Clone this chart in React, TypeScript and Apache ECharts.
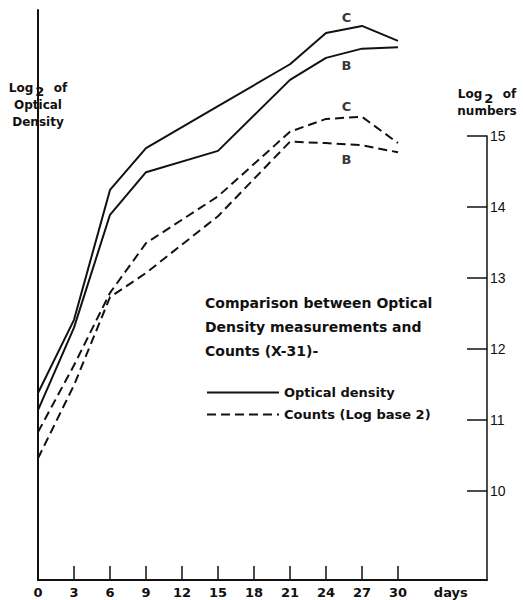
import React, { useEffect, useRef } from "react";
import * as echarts from "echarts";

// ---- data ----
const days = [0, 3, 6, 9, 15, 21, 24, 27, 30];
const opticalC = [11.38, 12.41, 14.24, 14.83, 15.42, 16.01, 16.45, 16.55, 16.34];
const opticalB = [11.14, 12.3, 13.89, 14.49, 14.79, 15.79, 16.1, 16.23, 16.25];
const countsC = [10.83, 11.77, 12.79, 13.49, 14.15, 15.06, 15.24, 15.27, 14.9];
const countsB = [10.46, 11.49, 12.73, 13.07, 13.87, 14.92, 14.9, 14.87, 14.77];
const dayTicks = [0, 3, 6, 9, 12, 15, 18, 21, 24, 27, 30];
const countTicks = [10, 11, 12, 13, 14, 15];
const daysLabelPos = 34.4;
const curveLabelDay = 25.7;

const FONT = "DejaVu Sans";
const INK = "#111";

function interp(xs: number[], ys: number[], x: number) {
  for (let i = 0; i < xs.length - 1; i++) {
    if (x >= xs[i] && x <= xs[i + 1]) {
      const t = (x - xs[i]) / (xs[i + 1] - xs[i]);
      return ys[i] + t * (ys[i + 1] - ys[i]);
    }
  }
  return ys[ys.length - 1];
}

export default function App() {
  const ref = useRef<HTMLDivElement>(null);
  useEffect(() => {
    if (!ref.current) return;
    const chart = echarts.init(ref.current, null, { renderer: "svg" });

    // layout
    const W = 523;
    const left = 38;
    const rightAxisX = 487;
    const baseY = 580;
    const topY = 10;
    const pxPerUnit = 71;
    const yMin = 8.746;
    const yMax0 = yMin + (baseY - topY) / pxPerUnit;
    const countsMax = 15;
    const grid1Top = baseY - (countsMax - yMin) * pxPerUnit;
    const xMax = (30 * (rightAxisX - left)) / 360;

    const pair = (ys: number[]) => days.map((d, i) => [d, ys[i]]);
    const labelStyle = { fontFamily: FONT, fontWeight: "bold" as const, fontSize: 13, color: INK };

    const curveLabel = (ys: number[], text: string, pos: "top" | "bottom", dist: number) => ({
      value: [curveLabelDay, interp(days, ys, curveLabelDay)],
      label: { show: true, formatter: text, position: pos, distance: dist, ...labelStyle, color: "#000" },
    });

    const nameRich = {
      t: { fontFamily: FONT, fontWeight: "bold", fontSize: 12, color: INK, lineHeight: 17 },
      s: { fontFamily: FONT, fontWeight: "bold", fontSize: 13, color: INK, lineHeight: 17, padding: [8, 1, 0, 2] },
    };

    chart.setOption({
      animation: false,
      backgroundColor: "#fff",
      title: {
        text: "Comparison between Optical\nDensity measurements and\nCounts (X-31)-",
        left: 205,
        top: 291,
        padding: 0,
        textStyle: { ...labelStyle, fontSize: 14, lineHeight: 24 },
      },
      legend: {
        data: ["Optical density", "Counts (Log base 2)"],
        orient: "vertical",
        left: 206,
        top: 386,
        padding: 0,
        itemWidth: 72,
        itemHeight: 14,
        itemGap: 9,
        itemStyle: { color: "transparent", borderColor: "transparent", borderWidth: 0 },
        textStyle: { ...labelStyle },
      },
      grid: [
        { left, right: W - rightAxisX, top: topY, bottom: 600 - baseY },
        { left, right: W - rightAxisX, top: grid1Top, bottom: 600 - baseY },
      ],
      xAxis: [
        {
          type: "value",
          gridIndex: 0,
          min: 0,
          max: xMax,
          axisLine: { show: true, onZero: false, lineStyle: { color: INK, width: 2 } },
          axisTick: { show: true, inside: true, length: 14, customValues: dayTicks, lineStyle: { color: INK, width: 1.5 } },
          axisLabel: {
            show: true,
            customValues: [...dayTicks, daysLabelPos],
            formatter: (v: number) => (v > 31 ? "days" : String(v)),
            margin: 6,
            ...labelStyle,
          },
          splitLine: { show: false },
        },
        { type: "value", gridIndex: 1, min: 0, max: xMax, show: false, axisLine: { onZero: false } },
      ],
      yAxis: [
        {
          type: "value",
          gridIndex: 0,
          position: "left",
          min: yMin,
          max: yMax0,
          name: "{t|Log}{s|2}{t|  of}\n{t|Optical}\n{t|Density}",
          nameLocation: "end",
          nameGap: -132,
          nameTextStyle: { rich: nameRich, backgroundColor: "#fff", padding: [8, 2, 12, 2], align: "center" },
          axisLine: { show: true, onZero: false, lineStyle: { color: INK, width: 2 } },
          axisTick: { show: false },
          axisLabel: { show: false },
          splitLine: { show: false },
        },
        {
          type: "value",
          gridIndex: 1,
          position: "right",
          min: yMin,
          max: countsMax,
          name: "{t|Log}{s|2}{t|  of}\n{t|numbers}",
          nameLocation: "end",
          nameGap: 16,
          nameTextStyle: { rich: nameRich, align: "center" },
          axisLine: { show: true, onZero: false, lineStyle: { color: INK, width: 1.5 } },
          axisTick: { show: true, inside: true, length: 20, customValues: countTicks, lineStyle: { color: INK, width: 1.5 } },
          axisLabel: {
            show: true,
            customValues: countTicks,
            margin: 3,
            fontFamily: "Liberation Sans",
            fontSize: 14,
            color: INK,
          },
          splitLine: { show: false },
        },
      ],
      series: [
        {
          name: "Optical density",
          type: "line",
          xAxisIndex: 0,
          yAxisIndex: 0,
          data: pair(opticalC),
          symbol: "none",
          lineStyle: { color: INK, width: 2 },
          itemStyle: { color: INK },
        },
        {
          name: "Optical density",
          type: "line",
          xAxisIndex: 0,
          yAxisIndex: 0,
          data: pair(opticalB),
          symbol: "none",
          lineStyle: { color: INK, width: 2 },
          itemStyle: { color: INK },
        },
        {
          name: "Counts (Log base 2)",
          type: "line",
          xAxisIndex: 1,
          yAxisIndex: 1,
          clip: false,
          data: pair(countsC),
          symbol: "none",
          lineStyle: { color: INK, width: 2, type: [9, 5] },
          itemStyle: { color: INK },
        },
        {
          name: "Counts (Log base 2)",
          type: "line",
          xAxisIndex: 1,
          yAxisIndex: 1,
          clip: false,
          data: pair(countsB),
          symbol: "none",
          lineStyle: { color: INK, width: 2, type: [9, 5] },
          itemStyle: { color: INK },
        },
        {
          name: "curve labels",
          type: "scatter",
          xAxisIndex: 0,
          yAxisIndex: 0,
          symbolSize: 1,
          silent: true,
          itemStyle: { color: "transparent" },
          data: [
            curveLabel(opticalC, "C", "top", 4),
            curveLabel(opticalB, "B", "bottom", 6),
            curveLabel(countsC, "C", "top", 4),
            curveLabel(countsB, "B", "bottom", 8),
          ],
        },
      ],
    });
    return () => chart.dispose();
  }, []);
  return (
    <div
      ref={ref}
      style={{ position: "absolute", left: 0, top: 0, width: 523, height: 600, background: "#fff" }}
    />
  );
}
